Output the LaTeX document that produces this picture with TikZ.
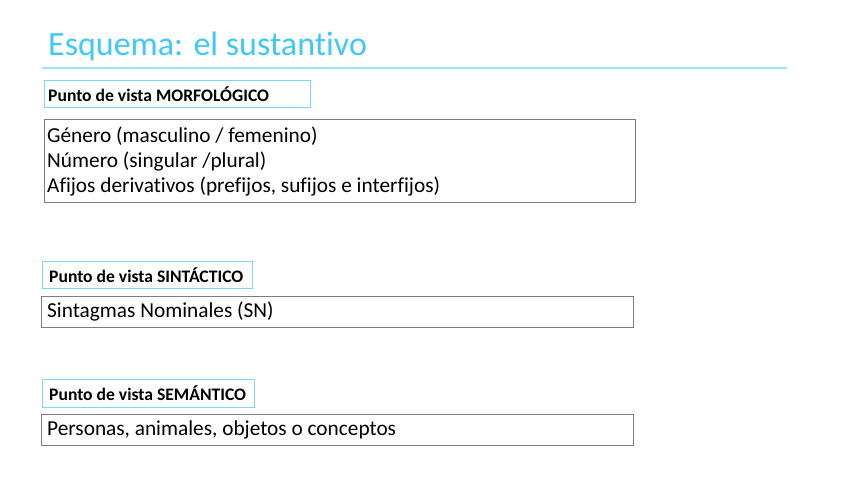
\documentclass[tikz,border=0pt]{standalone}
\usepackage{fontspec}
\setmainfont[Ligatures=NoCommon]{Carlito}
\definecolor{titleblue}{HTML}{3FC8F8}
\definecolor{lineblue}{HTML}{9EE3FB}
\definecolor{hdrblue}{HTML}{7FD6F8}
\definecolor{boxgray}{HTML}{7F7F7F}
\begin{document}
\begin{tikzpicture}[x=1pt,y=-1pt,
  hdrbox/.style={draw=hdrblue, line width=1pt, anchor=north west, inner sep=0pt},
  hdrtxt/.style={anchor=west, inner sep=0pt, font=\fontsize{17.6}{20}\selectfont\bfseries, text=black},
  contbox/.style={draw=boxgray, line width=1pt, anchor=north west, inner sep=0pt},
  contxt/.style={anchor=base west, inner sep=0pt, font=\fontsize{21.3}{25}\selectfont, text=black}]
\useasboundingbox (0,0) rectangle (848,477);
\node[anchor=base west, inner sep=0pt, text=titleblue, font=\fontsize{34}{40}\selectfont] (title) at (48,55) {Esquema: el sustantivo};
\coordinate (l1) at (42,68);
\coordinate (l2) at (787,68);
\draw[lineblue, line width=1.2pt] (l1) -- (l2);
% MORFOLOGICO
\node[hdrbox, minimum width=266pt, minimum height=27pt] (h1) at (44,80) {};
\node[hdrtxt] (h1t) at ([xshift=4pt]h1.west) {Punto de vista MORFOLÓGICO};
\node[contbox, minimum width=591pt, minimum height=83pt] (c1) at (44,119) {};
\node[contxt] (c1a) at (47,142) {Género (masculino / femenino)};
\node[contxt] (c1b) at (47,167) {Número (singular /plural)};
\node[contxt] (c1c) at (47,192) {Afijos derivativos (prefijos, sufijos e interfijos)};
% SINTACTICO
\node[hdrbox, minimum width=210pt, minimum height=27pt] (h2) at (42,261) {};
\node[hdrtxt] (h2t) at ([xshift=7pt]h2.west) {Punto de vista SINTÁCTICO};
\node[contbox, minimum width=592pt, minimum height=31pt] (c2) at (41,296) {};
\node[contxt] (c2a) at (47,317) {Sintagmas Nominales (SN)};
% SEMANTICO
\node[hdrbox, minimum width=212pt, minimum height=28pt] (h3) at (42,379) {};
\node[hdrtxt] (h3t) at ([xshift=7pt]h3.west) {Punto de vista SEMÁNTICO};
\node[contbox, minimum width=592pt, minimum height=31pt] (c3) at (41,414) {};
\node[contxt] (c3a) at (47,435) {Personas, animales, objetos o conceptos};
\end{tikzpicture}
\end{document}
